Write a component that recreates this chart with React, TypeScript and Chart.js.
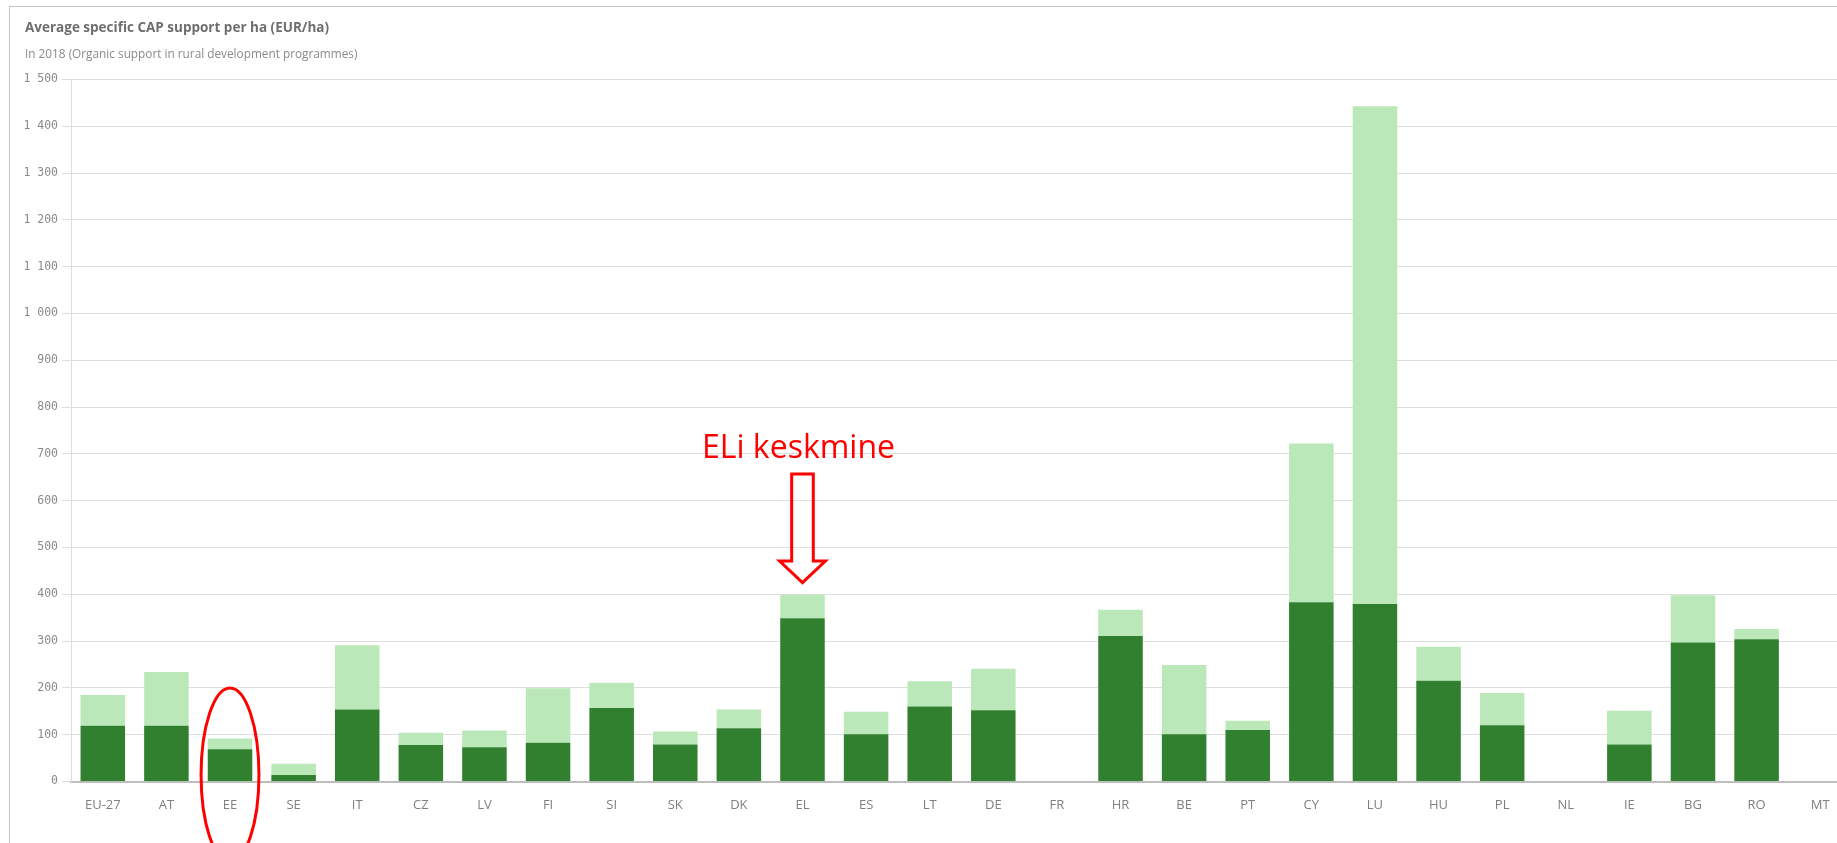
import { useEffect, useRef } from 'react';
import { Chart, registerables } from 'chart.js';

Chart.register(...registerables);

const categories = ['EU-27', 'AT', 'EE', 'SE', 'IT', 'CZ', 'LV', 'FI', 'SI', 'SK', 'DK', 'EL', 'ES', 'LT', 'DE', 'FR', 'HR', 'BE', 'PT', 'CY', 'LU', 'HU', 'PL', 'NL', 'IE', 'BG', 'RO', 'MT'];
// dark green (lower) segment
const baseValues = [119, 119, 69, 14, 154, 78, 73, 83, 157, 79, 114, 349, 101, 160, 152, 0, 311, 101, 110, 383, 379, 215, 120, 0, 79, 297, 304, 0];
// light green (upper) segment
const topValues = [66, 115, 23, 24, 137, 26, 36, 116, 54, 28, 40, 50, 48, 54, 89, 0, 56, 148, 20, 339, 1064, 73, 69, 0, 72, 101, 22, 0];

const titleText = 'Average specific CAP support per ha (EUR/ha)';
const subtitleText = 'In 2018 (Organic support in rural development programmes)';
const annotationText = 'ELi keskmine';
const annotatedCategory = 'EL';
const circledCategory = 'EE';

const CANVAS_W = 1880;
const CANVAS_H = 850;

const annotationPlugin = {
  id: 'refAnnotations',
  afterDraw(chart: any) {
    const { ctx } = chart;
    const x = chart.scales.x;
    const y = chart.scales.y;
    const cw = x.getPixelForValue(1) - x.getPixelForValue(0);
    const cx = x.getPixelForValue(categories.indexOf(annotatedCategory));
    ctx.save();
    ctx.fillStyle = '#ff0000';
    ctx.strokeStyle = '#ff0000';
    ctx.font = '32px "Open Sans"';
    ctx.textAlign = 'center';
    ctx.textBaseline = 'alphabetic';
    ctx.fillText(annotationText, cx - 4, y.getPixelForValue(692));

    const top = y.getPixelForValue(657);
    const sh = y.getPixelForValue(471);
    const tip = y.getPixelForValue(425);
    const sw = cw * 0.17;
    const hw = cw * 0.36;
    ctx.lineWidth = 3;
    ctx.lineJoin = 'miter';
    ctx.beginPath();
    ctx.moveTo(cx - sw, top);
    ctx.lineTo(cx + sw, top);
    ctx.lineTo(cx + sw, sh);
    ctx.lineTo(cx + hw, sh);
    ctx.lineTo(cx, tip);
    ctx.lineTo(cx - hw, sh);
    ctx.lineTo(cx - sw, sh);
    ctx.closePath();
    ctx.stroke();

    const ex = x.getPixelForValue(categories.indexOf(circledCategory));
    const eTop = y.getPixelForValue(200);
    const eCy = y.getPixelForValue(14);
    ctx.beginPath();
    ctx.ellipse(ex, eCy, cw * 0.455, eCy - eTop, 0, 0, Math.PI * 2);
    ctx.stroke();
    ctx.restore();
  },
};

export default function App() {
  const ref = useRef<HTMLCanvasElement | null>(null);

  useEffect(() => {
    document.documentElement.style.overflow = 'hidden';
    document.body.style.overflow = 'hidden';
    const canvas = ref.current;
    if (!canvas) return;
    const chart = new Chart(canvas, {
      type: 'bar',
      data: {
        labels: categories,
        datasets: [
          {
            label: 'Lower segment',
            data: baseValues,
            backgroundColor: '#318030',
            borderWidth: 0,
            barPercentage: 0.7,
            categoryPercentage: 1,
          },
          {
            label: 'Upper segment',
            data: topValues,
            backgroundColor: '#bae8b8',
            borderWidth: 0,
            barPercentage: 0.7,
            categoryPercentage: 1,
          },
        ],
      },
      options: {
        responsive: false,
        animation: false,
        devicePixelRatio: 1,
        layout: { padding: { left: 15, right: CANVAS_W - 1842, top: 0, bottom: CANVAS_H - 774.5 - 40 } },
        plugins: {
          legend: { display: false },
          tooltip: { enabled: false },
          title: {
            display: true,
            text: titleText,
            align: 'start',
            color: '#6e6e6e',
            font: { family: 'Open Sans', size: 13.5, weight: 'bold', lineHeight: 1.2 },
            padding: { top: 12.9, bottom: 0 },
          },
          subtitle: {
            display: true,
            text: subtitleText,
            align: 'start',
            color: '#8a8a8a',
            font: { family: 'Open Sans', size: 11.8, lineHeight: 1.2 },
            padding: { top: 11.8, bottom: 17.4 },
          },
        },
        scales: {
          x: {
            stacked: true,
            grid: { display: false },
            border: { color: '#bdbdbd', width: 2 },
            ticks: {
              color: '#808080',
              font: { family: 'Open Sans', size: 13 },
              padding: 8,
              maxRotation: 0,
              autoSkip: false,
            },
            afterFit: (s: any) => {
              s.height = 40;
            },
          },
          y: {
            stacked: true,
            min: 0,
            max: 1500,
            ticks: {
              stepSize: 100,
              color: '#8a8a8a',
              font: { family: 'DejaVu Sans Mono', size: 11.5 },
              padding: 4,
              callback: (v: any) => String(v).replace(/\B(?=(\d{3})+(?!\d))/g, ' '),
            },
            grid: { color: '#dedede', tickLength: 9, drawTicks: true },
            border: { color: '#dedede' },
            afterFit: (s: any) => {
              s.width = 46;
            },
          },
        },
      },
      plugins: [annotationPlugin],
    });
    return () => chart.destroy();
  }, []);

  return (
    <div style={{ position: 'fixed', left: 0, top: 0, width: 1837, height: 843, overflow: 'hidden', background: '#fff' }}>
      <div
        style={{
          position: 'absolute',
          left: 9,
          top: 6,
          width: 1900,
          height: 900,
          borderTop: '1px solid #c4c4c4',
          borderLeft: '1px solid #c4c4c4',
        }}
      >
        <canvas
          ref={ref}
          width={CANVAS_W}
          height={CANVAS_H}
          style={{ position: 'absolute', left: 0, top: 0, width: CANVAS_W, height: CANVAS_H }}
        />
      </div>
    </div>
  );
}
